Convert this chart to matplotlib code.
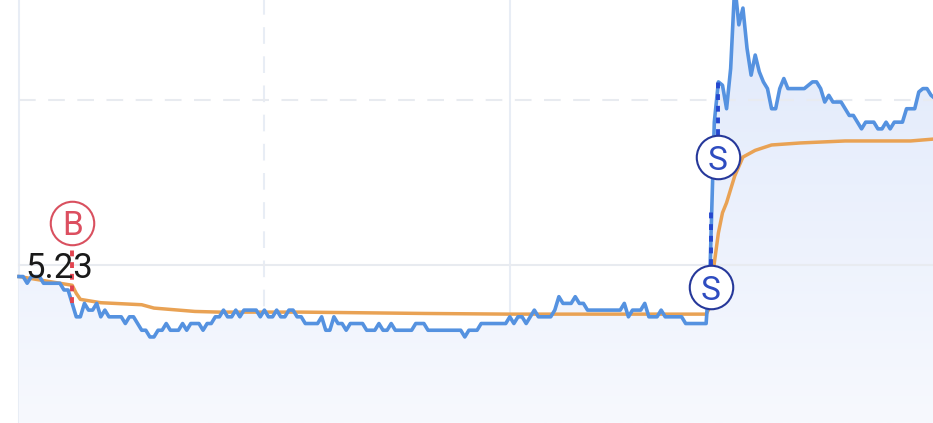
import numpy as np
from matplotlib import pyplot as plt
from matplotlib.patches import Polygon

# one value per minute
price = [
    5.25, 5.25, 5.24, 5.25, 5.25, 5.25, 5.24, 5.24, 5.24, 5.24,
    5.24, 5.23, 5.23, 5.21, 5.19, 5.19, 5.21, 5.20, 5.20, 5.21,
    5.19, 5.20, 5.19, 5.19, 5.19, 5.19, 5.18, 5.19, 5.19, 5.18,
    5.17, 5.17, 5.16, 5.16, 5.17, 5.17, 5.18, 5.17, 5.17, 5.17,
    5.18, 5.17, 5.18, 5.18, 5.18, 5.17, 5.18, 5.18, 5.19, 5.19,
    5.20, 5.19, 5.19, 5.20, 5.19, 5.20, 5.20, 5.20, 5.20, 5.19,
    5.20, 5.19, 5.19, 5.20, 5.19, 5.19, 5.20, 5.20, 5.19, 5.19,
    5.18, 5.18, 5.18, 5.18, 5.19, 5.17, 5.17, 5.19, 5.18, 5.18,
    5.17, 5.18, 5.18, 5.18, 5.18, 5.17, 5.17, 5.17, 5.18, 5.17,
    5.17, 5.18, 5.17, 5.17, 5.17, 5.17, 5.17, 5.18, 5.18, 5.18,
    5.17, 5.17, 5.17, 5.17, 5.17, 5.17, 5.17, 5.17, 5.17, 5.16,
    5.17, 5.17, 5.17, 5.18, 5.18, 5.18, 5.18, 5.18, 5.18, 5.18,
    5.19, 5.18, 5.19, 5.19, 5.18, 5.19, 5.20, 5.19, 5.19, 5.19,
    5.19, 5.20, 5.22, 5.21, 5.21, 5.21, 5.22, 5.21, 5.21, 5.20,
    5.20, 5.20, 5.20, 5.20, 5.20, 5.20, 5.20, 5.20, 5.21, 5.19,
    5.20, 5.20, 5.20, 5.21, 5.19, 5.19, 5.19, 5.20, 5.19, 5.19,
    5.19, 5.19, 5.19, 5.18, 5.18, 5.18, 5.18, 5.18, 5.18, 5.27,
    5.48, 5.54, 5.535, 5.50, 5.56, 5.685, 5.625, 5.65, 5.59, 5.55,
    5.58, 5.555, 5.54, 5.53, 5.50, 5.50, 5.53, 5.545, 5.53, 5.53,
    5.53, 5.53, 5.53, 5.535, 5.54, 5.54, 5.53, 5.51, 5.52, 5.51,
    5.51, 5.51, 5.50, 5.49, 5.49, 5.48, 5.47, 5.48, 5.48, 5.48,
    5.47, 5.47, 5.48, 5.47, 5.48, 5.48, 5.48, 5.50, 5.50, 5.50,
    5.525, 5.53, 5.53, 5.52, 5.515,
]
minutes = np.arange(len(price))

avg_minutes = [0, 5, 13, 14, 15, 20, 30, 33, 43, 49, 69, 99, 120, 162, 168,
               169, 170, 171, 172, 173, 175, 177, 180, 184, 191, 202, 218, 224]
avg_price = [5.25, 5.245, 5.237, 5.225, 5.216, 5.211, 5.208, 5.203, 5.198, 5.197,
             5.197, 5.195, 5.194, 5.194, 5.194, 5.205, 5.27, 5.315, 5.345, 5.36,
             5.40, 5.428, 5.438, 5.446, 5.449, 5.452, 5.452, 5.455]

# trades: where the dashed stem runs, and where the badge sits
trade_labels = ['B', 'S', 'S']
trade_minutes = [13, 169.2, 171]
stem_low = [5.21, 5.267, 5.461]
stem_high = [5.297, 5.354, 5.546]
badge_minutes = [13, 169.2, 170.9]
badge_price = [5.33, 5.234, 5.428]
edge_colors = ['#d9505f', '#26389a', '#26389a']
text_colors = ['#dc4f60', '#2e4cc0', '#2e4cc0']
stem_colors = ['#e2434f', '#2547cf', '#2547cf']

buy_price_label = '5.23'

fig = plt.figure(figsize=(9.33, 4.23), dpi=100)
ax = fig.add_axes([0, 0, 1, 1])
ax.axis('off')

# grid
ax.axvline(0, color='#e8edf5', lw=1.5, zorder=1)
ax.axvline(60, color='#e8edf5', lw=1.5, ls=(0, (8, 6)), zorder=1)
ax.axvline(120, color='#e8edf5', lw=1.5, zorder=1)
ax.plot([0, 224], [5.267, 5.267], color='#e8ebf0', lw=1.5, zorder=3)
ax.plot([0, 224], [5.513, 5.513], color='#e8ebf0', lw=1.5, ls=(0, (8, 6)), zorder=3)

# area under the price line, paler towards the bottom
grad = np.linspace(0, 1, 256).reshape(-1, 1)
cmap = plt.matplotlib.colors.LinearSegmentedColormap.from_list('area', ['#f7f9fe', '#e0e9fb'])
im = ax.imshow(grad, extent=(0, 224, 5.0318, 5.662), origin='lower', aspect='auto',
               cmap=cmap, zorder=2)
verts = list(zip(minutes, price)) + [(minutes[-1], 5.0318), (0, 5.0318)]
poly = Polygon(verts, closed=True, transform=ax.transData, fc='none', ec='none')
ax.add_patch(poly)
im.set_clip_path(poly)
ax.set_xlim(-4.645, 223.47)
ax.set_ylim(5.0318, 5.662)

ax.plot(avg_minutes, avg_price, color='#e9a254', lw=2.5, zorder=4)
ax.plot(minutes, price, color='#5592e0', lw=2.6, zorder=5, solid_joinstyle='round')

for i in range(len(trade_labels)):
    ax.plot([trade_minutes[i], trade_minutes[i]], [stem_low[i], stem_high[i]],
            color=stem_colors[i], lw=2.8, ls=(0, (1.5, 1.5)), zorder=6)
    ax.scatter([badge_minutes[i]], [badge_price[i]], s=980, facecolor='white',
               edgecolor=edge_colors[i], linewidth=1.5, zorder=7)
    ax.text(badge_minutes[i], badge_price[i], trade_labels[i], color=text_colors[i],
            fontsize=24, family='Roboto', ha='center', va='center_baseline', zorder=8)

ax.text(9.9, 5.267, buy_price_label, color='#1a1a1a', fontsize=25, family='Roboto',
        ha='center', va='center_baseline', zorder=9)

fig.savefig('out.png', dpi=100)
